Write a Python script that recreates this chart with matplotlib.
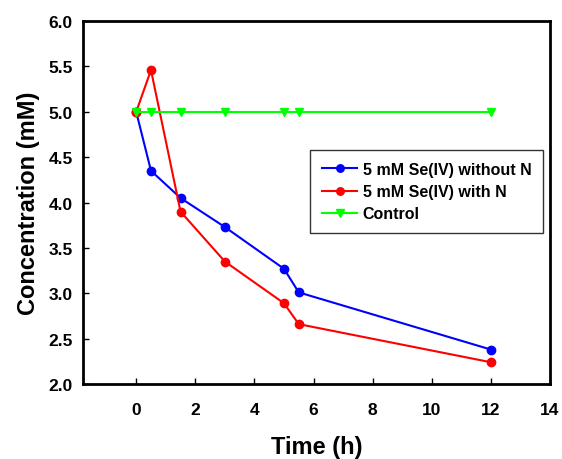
import matplotlib
matplotlib.use("Agg")
import matplotlib.pyplot as plt

time = [0, 0.5, 1.5, 3, 5, 5.5, 12]
without_n = [5.0, 4.35, 4.05, 3.73, 3.27, 3.01, 2.38]
with_n = [5.0, 5.46, 3.90, 3.35, 2.89, 2.66, 2.24]
control = [5.0, 5.0, 5.0, 5.0, 5.0, 5.0, 5.0]
labels = ["5 mM Se(IV) without N", "5 mM Se(IV) with N", "Control"]
xticks = [0, 2, 4, 6, 8, 10, 12, 14]
yticks = [2.0, 2.5, 3.0, 3.5, 4.0, 4.5, 5.0, 5.5, 6.0]

plt.rcParams['font.family'] = ['Liberation Sans', 'DejaVu Sans']
plt.rcParams['font.weight'] = 'bold'

fig = plt.figure(figsize=(5.62, 4.6), dpi=100)
ax = fig.add_axes([0.1477, 0.163, 0.9786 - 0.1477, 0.952 - 0.163])

ax.plot(time, without_n, color='#0000ff', marker='o', markersize=6, lw=1.5, label=labels[0])
ax.plot(time, with_n, color='#ff0000', marker='o', markersize=6, lw=1.5, label=labels[1])
ax.plot(time, control, color='#00ff00', marker='v', markersize=6, lw=1.5, label=labels[2])

ax.set_xlim(-1.8, 14)
ax.set_ylim(2.0, 6.0)
ax.set_xticks(xticks)
ax.set_yticks(yticks)
ax.set_xticklabels([str(t) for t in xticks], fontsize=12.5, fontweight='bold')
ax.set_yticklabels([f"{t:.1f}" for t in yticks], fontsize=12.5, fontweight='bold')
ax.tick_params(axis='x', direction='in', length=4, width=1, pad=13)
ax.tick_params(axis='y', direction='in', length=4, width=1, pad=7.5)
for s in ax.spines.values():
    s.set_linewidth(2)

ax.set_xlabel("Time (h)", fontsize=17, fontweight='bold', labelpad=13)
ax.set_ylabel("Concentration (mM)", fontsize=17, fontweight='bold', labelpad=6)

leg = ax.legend(loc='upper left', bbox_to_anchor=(0.486, 0.645), borderaxespad=0,
                frameon=True, fancybox=False, edgecolor='black', fontsize=11.5,
                handlelength=2.2, borderpad=0.75, labelspacing=0.45,
                handletextpad=0.35, markerscale=0.9)
leg.get_frame().set_linewidth(1)
for t in leg.get_texts():
    t.set_fontweight('bold')

fig.savefig("out.png", dpi=100)
